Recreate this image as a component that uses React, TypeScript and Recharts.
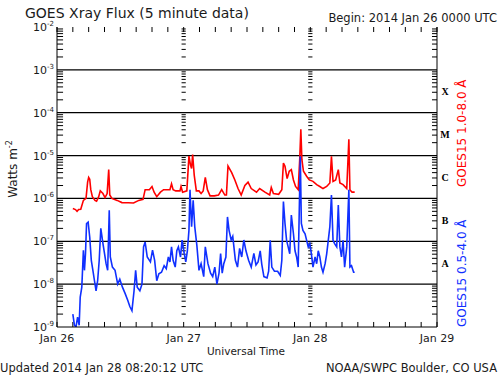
import React from 'react';
import { LineChart, Line, XAxis, YAxis, ReferenceLine } from 'recharts';

// hours after 2014 Jan 26 00:00 UTC
const redHours = [
  3.0, 3.5, 3.8, 4.1, 4.5, 5.0, 5.5, 5.8, 6.0, 6.2,
  6.4, 6.7, 7.2, 7.5, 7.9, 8.2, 8.7, 9.1, 9.5, 9.8,
  10.0, 10.4, 11.4, 12.3, 13.5, 14.5, 15.5, 16.3, 16.7, 17.5,
  18.0, 18.4, 18.9, 19.6, 20.2, 20.8, 21.4, 21.7, 22.0, 22.5,
  23.3, 23.5, 23.8, 24.6, 25.0, 25.3, 25.5, 25.7, 26.0, 26.4,
  26.9, 27.3, 27.7, 28.1, 28.5, 29.0, 29.8, 30.6, 31.2, 31.8,
  32.1, 32.4, 33.1, 33.7, 34.3, 34.9, 35.6, 36.2, 36.8, 37.8,
  38.4, 39.4, 40.3, 40.6, 41.0, 42.0, 42.6, 42.9, 43.2, 43.6,
  44.0, 44.4, 44.8, 45.2, 45.7, 46.0, 46.2, 46.4, 46.7, 47.3,
  47.8, 48.5, 49.2, 49.8, 50.4, 51.1, 51.7, 52.0, 52.3, 52.8,
  53.3, 53.6, 54.2, 54.9, 55.3, 55.5, 55.9, 56.4,
];
const redFlux = [
  5.8e-7, 5.5e-7, 5.0e-7, 5.5e-7, 5.6e-7, 9e-7, 1.0e-6, 2.4e-6, 3.1e-6, 2.8e-6,
  1.6e-6, 1.1e-6, 9e-7, 8.6e-7, 1.1e-6, 1.5e-6, 1.3e-6, 1.05e-6, 1.3e-6, 4.7e-6,
  1.2e-6, 1.0e-6, 9e-7, 8e-7, 7.9e-7, 7.8e-7, 9e-7, 9.5e-7, 1.6e-6, 1.6e-6,
  1.9e-6, 1.4e-6, 1.1e-6, 1.4e-6, 1.6e-6, 1.6e-6, 1.6e-6, 2.2e-6, 1.6e-6, 1.5e-6,
  1.5e-6, 1.9e-6, 1.4e-6, 1.5e-6, 9.7e-6, 6e-6, 5e-6, 1.05e-5, 3.5e-6, 1.5e-6,
  1.5e-6, 1.3e-6, 1.5e-6, 3.1e-6, 1.6e-6, 1.15e-6, 1.15e-6, 1.2e-6, 1.6e-6, 1.2e-6,
  1.2e-6, 5.7e-6, 4e-6, 2.7e-6, 1.7e-6, 1.2e-6, 2e-6, 2.4e-6, 1.7e-6, 1.4e-6,
  1.7e-6, 1.4e-6, 1.2e-6, 1.8e-6, 1.3e-6, 1.25e-6, 1.6e-6, 6.7e-6, 5.6e-6, 2.9e-6,
  4.3e-6, 4.7e-6, 2.7e-6, 1.9e-6, 1.6e-6, 8.8e-6, 4.1e-5, 8e-6, 4.3e-6, 3.3e-6,
  2.7e-6, 2.5e-6, 2.1e-6, 1.9e-6, 1.7e-6, 1.9e-6, 2.3e-6, 9.6e-6, 2.5e-6, 2.7e-6,
  4.7e-6, 2.3e-6, 2.1e-6, 1.7e-6, 2.4e-5, 1.6e-6, 1.4e-6, 1.4e-6,
];

const blueHours = [
  3.0, 3.3, 3.6, 3.9, 4.2, 4.4, 4.7, 5.0, 5.2, 5.4,
  5.6, 5.9, 6.2, 6.5, 6.8, 7.1, 7.4, 7.7, 8.0, 8.3,
  8.7, 9.0, 9.3, 9.6, 9.9, 10.1, 10.5, 11.0, 11.5, 11.9,
  12.4, 12.9, 13.4, 13.8, 14.2, 14.6, 14.9, 15.2, 15.7, 16.1,
  16.4, 16.7, 17.1, 17.7, 18.1, 18.5, 18.9, 19.3, 19.8, 20.3,
  20.7, 21.1, 21.4, 21.7, 22.0, 22.4, 22.7, 23.0, 23.4, 23.7,
  24.1, 24.4, 24.7, 25.0, 25.2, 25.5, 25.8, 26.1, 26.5, 26.9,
  27.3, 27.8, 28.1, 28.6, 29.1, 29.5, 29.9, 30.3, 30.7, 31.0,
  31.3, 31.6, 32.0, 32.3, 32.6, 33.0, 33.3, 33.8, 34.2, 34.6,
  35.0, 35.4, 35.8, 36.3, 36.8, 37.3, 37.7, 38.1, 38.5, 38.8,
  39.2, 39.8, 40.1, 40.4, 40.7, 41.2, 41.8, 42.3, 42.6, 42.9,
  43.2, 43.5, 43.8, 44.1, 44.4, 44.8, 45.1, 45.4, 45.7, 46.1,
  46.3, 46.6, 47.0, 47.3, 47.6, 47.9, 48.2, 48.5, 48.9, 49.2,
  49.5, 49.8, 50.1, 50.4, 50.8, 51.1, 51.4, 51.7, 52.0, 52.3,
  52.6, 53.0, 53.3, 53.6, 53.9, 54.2, 54.5, 54.9, 55.3, 55.5,
  55.8, 56.2, 56.4,
];
const blueFlux = [
  2e-9, 1.1e-9, 1e-9, 1.7e-9, 1.1e-9, 5e-9, 8.5e-9, 6.2e-8, 2.1e-8, 5.2e-8,
  2.6e-7, 2.8e-7, 1.26e-7, 3.6e-8, 2.1e-8, 1.2e-8, 7e-9, 1.2e-8, 3.6e-8, 2e-7,
  8.9e-8, 5.2e-8, 3e-8, 2.1e-8, 5.3e-7, 4.3e-8, 2.5e-8, 2.1e-8, 1e-8, 1.3e-8,
  8.5e-9, 6.1e-9, 4.2e-9, 3e-9, 2.4e-9, 7e-9, 2.1e-8, 8.5e-9, 7e-9, 1e-8,
  7.4e-8, 9.6e-8, 4.3e-8, 3.3e-8, 6.2e-8, 3.6e-8, 1.2e-8, 1.75e-8, 1.9e-8, 2.7e-8,
  2.3e-8, 4.3e-8, 3.3e-8, 7.4e-8, 3.6e-8, 2.5e-8, 6e-8, 7.4e-8, 4.3e-8, 1.07e-7,
  5.2e-8, 3.3e-8, 6e-8, 1.8e-7, 1.6e-6, 2.2e-7, 9e-7, 2.2e-7, 8e-8, 2.1e-8,
  3e-8, 1.5e-8, 7.4e-8, 3e-8, 1.8e-8, 1.5e-8, 2.5e-8, 1e-8, 1.8e-8, 5.2e-8,
  1.8e-8, 3e-8, 4.3e-8, 3.7e-7, 1.8e-7, 1.07e-7, 1.3e-7, 3.6e-8, 2.5e-8, 6.8e-8,
  4.3e-8, 1.07e-7, 6e-8, 3.6e-8, 2.5e-8, 5.2e-8, 2.8e-8, 3.3e-8, 6e-8, 2.9e-8,
  1.5e-8, 1.4e-8, 2e-8, 1.05e-7, 2.5e-8, 2e-8, 2e-8, 1.6e-8, 3.6e-8, 8.5e-7,
  2.6e-7, 1.05e-7, 7.4e-8, 5.1e-8, 4.1e-7, 1.5e-7, 6e-8, 4.3e-8, 2.5e-8, 9.6e-6,
  2.6e-7, 1.8e-7, 1.5e-7, 1.05e-7, 7.4e-8, 8.8e-8, 5.1e-8, 2.5e-8, 4.3e-8, 3e-8,
  6e-8, 4.3e-8, 2.5e-8, 1.9e-8, 3e-8, 5.1e-8, 1.05e-7, 2.2e-7, 1.2e-6, 1.05e-7,
  8.8e-8, 7.4e-8, 7e-7, 7.4e-8, 4.3e-8, 1.05e-7, 2.5e-8, 7.4e-8, 1.6e-6, 2.5e-8,
  2.7e-8, 1.9e-8, 1.9e-8,
];

const hourTicks = [0, 3, 6, 9, 12, 15, 18, 21, 24, 27, 30, 33, 36, 39, 42, 45, 48, 51, 54, 57, 60, 63, 66, 69, 72];
const dayTicks = [0, 24, 48, 72];
const dayLabels = ['Jan 26', 'Jan 27', 'Jan 28', 'Jan 29'];
const dayLines = [24, 48];
const decades = [1e-9, 1e-8, 1e-7, 1e-6, 1e-5, 1e-4, 1e-3, 1e-2];
const classNames = ['A', 'B', 'C', 'M', 'X'];
const classLevels = [10 ** -7.5, 10 ** -6.5, 10 ** -5.5, 10 ** -4.5, 10 ** -3.5];

const minorTicks = decades.slice(0, -1).flatMap((d) => [2, 3, 4, 5, 6, 7, 8, 9].map((k) => k * d));

const redData = redHours.map((t, i) => ({ t, flux: redFlux[i] }));
const blueData = blueHours.map((t, i) => ({ t, flux: blueFlux[i] }));

const FONT = '"DejaVu Sans", sans-serif';
const INK = '#1a1a1a';
const TICK_F = 1.31; // ~5px on the log axis

function LeftTick(props: any) {
  const { x, y, payload } = props;
  const e = Math.round(Math.log10(payload.value));
  return (
    <text x={x - 3} y={y + 4} textAnchor="end" fontSize={11} fill={INK} fontFamily={FONT}>
      10<tspan dy={-5} fontSize={7}>{e}</tspan>
    </text>
  );
}

function RightTick(props: any) {
  const { x, y, index } = props;
  return (
    <text x={x + 8} y={y + 4} textAnchor="middle" fontSize={10} fontWeight="bold" fill="#000" fontFamily='"Liberation Serif", serif'>
      {classNames[index]}
    </text>
  );
}

function BottomTick(props: any) {
  const { x, y, index } = props;
  return (
    <text x={x} y={y + 15} textAnchor="middle" fontSize={11} fill={INK} fontFamily={FONT}>
      {dayLabels[index]}
    </text>
  );
}

export default function App() {
  return (
    <div style={{ position: 'absolute', left: 0, top: 0, width: 500, height: 375, background: '#fff' }}>
      <LineChart width={500} height={375} margin={{ top: 27, right: 0, bottom: 18, left: 0 }}>
        <XAxis dataKey="t" type="number" domain={[0, 72]} ticks={dayTicks} interval={0} height={30}
          tickSize={0} tickMargin={0} tickLine={false} axisLine={{ stroke: '#000' }} tick={BottomTick} allowDataOverflow />
        <XAxis xAxisId="top" orientation="top" dataKey="t" type="number" domain={[0, 72]} height={0}
          tick={false} tickLine={false} axisLine={{ stroke: '#000' }} allowDataOverflow />
        <YAxis type="number" scale="log" domain={[1e-9, 1e-2]} ticks={decades} interval={0} width={57}
          tickSize={0} tickMargin={0} tickLine={false} axisLine={{ stroke: '#000' }} tick={LeftTick} allowDataOverflow />
        <YAxis yAxisId="right" orientation="right" type="number" scale="log" domain={[1e-9, 1e-2]} ticks={classLevels}
          interval={0} width={63} tickSize={0} tickMargin={0} tickLine={false} axisLine={{ stroke: '#000' }} tick={RightTick} allowDataOverflow />
        {decades.slice(1, -1).map((d) => (
          <ReferenceLine key={'dec' + d} y={d} stroke="#000" strokeWidth={1.2} />
        ))}
        {minorTicks.map((v) => (
          <ReferenceLine key={'l' + v} segment={[{ x: 0, y: v }, { x: 1.15, y: v }]} stroke="#000" />
        ))}
        {minorTicks.map((v) => (
          <ReferenceLine key={'r' + v} segment={[{ x: 71.05, y: v }, { x: 72, y: v }]} stroke="#000" />
        ))}
        {dayLines.flatMap((h) =>
          minorTicks.map((v) => (
            <ReferenceLine key={'m' + h + '-' + v} segment={[{ x: h - 0.4, y: v }, { x: h + 0.4, y: v }]} stroke="#000" />
          ))
        )}
        {hourTicks.map((h) => (
          <ReferenceLine key={'b' + h} segment={[{ x: h, y: 1e-9 }, { x: h, y: 1e-9 * TICK_F }]} stroke="#000" />
        ))}
        {hourTicks.map((h) => (
          <ReferenceLine key={'t' + h} segment={[{ x: h, y: 1e-2 }, { x: h, y: 1e-2 / TICK_F }]} stroke="#000" />
        ))}
        <Line data={redData} dataKey="flux" xAxisId="top" type="linear" stroke="#ff0000" strokeWidth={1.6} dot={false} isAnimationActive={false} />
        <Line data={blueData} dataKey="flux" yAxisId="right" type="linear" stroke="#1030ff" strokeWidth={1.6} dot={false} isAnimationActive={false} />
      </LineChart>
      <svg width={500} height={375} style={{ position: 'absolute', left: 0, top: 0, pointerEvents: 'none' }} fontFamily={FONT}>
        <text x={25} y={18} fontSize={14} fill={INK}>GOES Xray Flux (5 minute data)</text>
        <text x={497} y={22} fontSize={11.5} fill={INK} textAnchor="end">Begin:  2014 Jan 26 0000 UTC</text>
        <text x={246} y={355} fontSize={10.5} fill={INK} textAnchor="middle">Universal Time</text>
        <text x={0} y={372} fontSize={11.5} fill={INK}>Updated 2014 Jan 28 08:20:12 UTC</text>
        <text x={497} y={372} fontSize={11.5} fill={INK} textAnchor="end">NOAA/SWPC Boulder, CO USA</text>
        <text x={17} y={169} fontSize={12} fill={INK} textAnchor="middle" transform="rotate(-90 17 169)">
          Watts m<tspan dy={-5} fontSize={8}>-2</tspan>
        </text>
        <text x={466} y={187} fontSize={12} fill="#ff0000" transform="rotate(-90 466 187)">GOES15 1.0-8.0 Å</text>
        <text x={466} y={327} fontSize={12} fill="#1030ff" transform="rotate(-90 466 327)">GOES15 0.5-4.0 Å</text>
      </svg>
    </div>
  );
}
